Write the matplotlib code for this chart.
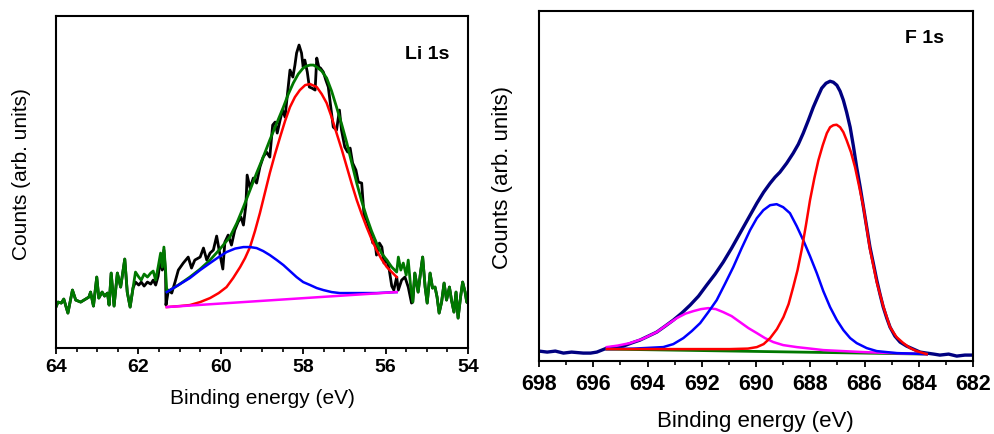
import matplotlib
matplotlib.use('Agg')
import numpy as np
import matplotlib.pyplot as plt
from matplotlib.ticker import MultipleLocator

plt.rcParams['font.family'] = ['Liberation Sans', 'DejaVu Sans']

# ---- Li 1s (left panel) ----
# raw spectrum, black
li_raw_be = [64.00, 63.95, 63.87, 63.81, 63.71, 63.60, 63.52, 63.40, 63.28, 63.20,
             63.16, 63.09, 63.01, 62.96, 62.88, 62.82, 62.75, 62.71, 62.66, 62.59,
             62.51, 62.43, 62.33, 62.27, 62.20, 62.13, 62.07, 61.99, 61.93, 61.86,
             61.78, 61.70, 61.64, 61.58, 61.52, 61.46, 61.42, 61.38, 61.34,
             61.33, 61.27, 61.19, 61.11, 61.03, 60.91, 60.79, 60.71, 60.63, 60.50,
             60.42, 60.34, 60.26, 60.18, 60.10, 60.04, 59.95, 59.90, 59.82, 59.74,
             59.66, 59.58, 59.51, 59.45, 59.39, 59.36, 59.29, 59.21, 59.13, 59.05,
             58.97, 58.89, 58.81, 58.74, 58.68, 58.63, 58.56, 58.50, 58.44, 58.39,
             58.32, 58.25, 58.20, 58.16, 58.10, 58.04, 58.00, 57.96, 57.90, 57.85,
             57.79, 57.71, 57.67, 57.62, 57.58, 57.51, 57.45, 57.39, 57.33, 57.27,
             57.19, 57.12, 57.07, 56.99, 56.92, 56.86, 56.80, 56.72, 56.66, 56.58,
             56.52, 56.46, 56.38, 56.31, 56.26, 56.22, 56.15, 56.09, 56.04, 55.97,
             55.91, 55.85, 55.80, 55.73, 55.69, 55.61, 55.53, 55.45, 55.37,
             55.34, 55.29, 55.21, 55.15, 55.10, 55.04, 54.99, 54.92, 54.86, 54.80,
             54.75, 54.70, 54.64, 54.58, 54.52, 54.45, 54.40, 54.34, 54.29, 54.24,
             54.18, 54.13, 54.07, 54.03, 54.00]
li_raw_cnt = [41, 46, 45, 49, 35, 58, 48, 46, 49, 51,
              56, 42, 71, 50, 56, 52, 55, 43, 75, 42,
              75, 61, 89, 56, 41, 60, 66, 63, 66, 62,
              66, 64, 68, 63, 72, 90, 78, 98, 75,
              43, 58, 55, 66, 78, 85, 91, 80, 88, 91,
              100, 88, 95, 98, 112, 98, 79, 106, 113, 103,
              118, 126, 131, 123, 143, 173, 160, 170, 165, 181,
              191, 196, 191, 223, 226, 215, 228, 238, 231, 251,
              278, 271, 283, 295, 303, 295, 281, 288, 276, 261,
              260, 258, 290, 281, 280, 276, 268, 261, 241, 221,
              218, 238, 218, 201, 196, 200, 185, 178, 166, 165,
              131, 128, 118, 105, 108, 93, 105, 101, 85, 88,
              78, 62, 58, 71, 58, 68, 71, 61, 45,
              46, 75, 56, 76, 91, 61, 45, 75, 60, 61,
              51, 35, 46, 65, 48, 61, 48, 36, 56, 30,
              51, 66, 56, 46, 45]

# green: data outside the fit window + envelope inside it
li_env_be = [64.00, 63.95, 63.87, 63.81, 63.71, 63.60, 63.52, 63.40, 63.28, 63.20,
             63.16, 63.09, 63.01, 62.96, 62.88, 62.82, 62.75, 62.71, 62.66, 62.59,
             62.51, 62.43, 62.33, 62.27, 62.20, 62.13, 62.07, 61.99, 61.93, 61.86,
             61.78, 61.70, 61.64, 61.58, 61.52, 61.46, 61.42, 61.38, 61.34,
             61.31, 61.03, 60.75, 60.50, 60.26, 60.02, 59.78, 59.61, 59.45, 59.29,
             59.13, 58.97, 58.81, 58.64, 58.48, 58.36, 58.24, 58.12, 58.00, 57.92,
             57.83, 57.75, 57.67, 57.55, 57.43, 57.31, 57.19, 57.06, 56.94, 56.82,
             56.70, 56.58, 56.46, 56.34, 56.22, 56.10, 55.97, 55.85, 55.73,
             55.69, 55.63, 55.57, 55.50, 55.45, 55.39,
             55.34, 55.29, 55.21, 55.15, 55.10, 55.04, 54.99, 54.92, 54.86, 54.80,
             54.75, 54.70, 54.64, 54.58, 54.52, 54.45, 54.40, 54.34, 54.29, 54.24,
             54.18, 54.13, 54.07, 54.03, 54.00]
li_env_cnt = [41, 46, 45, 49, 35, 58, 48, 46, 49, 51,
              56, 42, 71, 50, 56, 52, 55, 43, 75, 42,
              75, 61, 89, 56, 41, 60, 76, 71, 68, 74,
              71, 75, 77, 68, 81, 95, 81, 101, 78,
              56, 63, 71, 79, 88, 99, 111, 125, 141, 158,
              175, 191, 208, 225, 241, 254, 265, 274, 280, 282,
              283, 283, 281, 277, 270, 257, 241, 223, 205, 185,
              165, 147, 131, 117, 105, 95, 88, 81, 76,
              91, 78, 85, 73, 88, 61,
              46, 75, 56, 76, 91, 61, 45, 75, 60, 61,
              51, 35, 46, 65, 48, 61, 48, 36, 56, 30,
              51, 66, 56, 46, 45]

li_p1_be = [61.31, 61.00, 60.75, 60.50, 60.26, 60.05, 59.86, 59.70, 59.53, 59.41,
            59.29, 59.17, 59.05, 58.93, 58.81, 58.69, 58.56, 58.44, 58.32, 58.20,
            58.08, 57.95, 57.83, 57.67, 57.55, 57.43, 57.31, 57.19, 57.06, 56.94,
            56.82, 56.70, 56.58, 56.46, 56.34, 56.22, 56.10, 55.97, 55.85, 55.73]
li_p1_cnt = [41, 42, 43, 46, 50, 55, 61, 70, 81, 90,
             101, 117, 135, 155, 175, 193, 211, 227, 241, 251,
             258, 263, 264, 261, 254, 245, 231, 215, 198, 181,
             164, 148, 134, 121, 109, 98, 89, 81, 76, 71]

li_p2_be = [61.31, 61.03, 60.75, 60.50, 60.26, 60.05, 59.86, 59.65, 59.45, 59.29,
            59.13, 58.97, 58.81, 58.64, 58.48, 58.32, 58.16, 58.00, 57.83, 57.67,
            57.51, 57.31, 57.11, 56.70, 56.22, 55.73]
li_p2_cnt = [56, 63, 70, 78, 85, 91, 96, 99.5, 101, 101,
             100, 97, 93, 88, 83, 77, 71, 66, 63, 60,
             58, 56, 55, 55, 55, 56]

li_bg_be = [61.31, 55.73]
li_bg_cnt = [41, 56]

# ---- F 1s (right panel) ----
f_raw_be = [698.00, 697.70, 697.40, 697.10, 696.80, 696.37, 696.10, 695.87, 695.50, 695.20,
            694.89, 694.60, 694.28, 693.97, 693.66, 693.35, 693.05, 692.74, 692.43, 692.12,
            691.82, 691.51, 691.21, 690.90, 690.59, 690.28, 689.97, 689.72, 689.48, 689.30,
            689.12, 688.87, 688.63, 688.44, 688.26, 688.07, 687.89, 687.73, 687.58, 687.42,
            687.27, 687.15, 687.02, 686.90, 686.78, 686.66, 686.53, 686.41, 686.29, 686.16,
            686.04, 685.92, 685.80, 685.67, 685.55, 685.43, 685.31, 685.18, 685.06, 684.88,
            684.69, 684.45, 684.20, 683.95, 683.71, 683.45, 683.22, 682.90, 682.60, 682.30,
            682.05]
f_raw_cnt = [10, 9, 10, 8, 9, 8, 8, 9, 13, 14,
             15, 18, 21, 25, 29, 35, 41, 48, 56, 65,
             76, 87, 99, 113, 128, 143, 158, 169, 178, 184,
             189, 198, 208, 217, 228, 241, 254, 264, 273, 278,
             280, 279, 276, 270, 261, 249, 234, 215, 194, 174,
             154, 134, 114, 97, 81, 67, 54, 43, 34, 25,
             19, 15, 12, 9, 8, 7, 6, 7, 5, 6,
             6]

f_p1_be = [695.50, 690.96, 690.30, 689.97, 689.72, 689.48, 689.23, 688.99, 688.80, 688.63,
           688.47, 688.32, 688.16, 688.01, 687.85, 687.70, 687.54, 687.39, 687.27, 687.15,
           687.03, 686.90, 686.78, 686.66, 686.50, 686.35, 686.20, 686.04, 685.92, 685.80,
           685.67, 685.55, 685.30, 685.06, 684.82, 684.57, 684.32, 684.08, 683.71]
f_p1_cnt = [12, 12, 12.5, 14, 17, 23, 32, 44, 57, 74,
            91, 111, 136, 161, 183, 201, 216, 228, 234, 236,
            236.5, 234, 229, 221, 209, 194, 175, 154, 133, 112,
            95, 79, 54, 34, 24, 18, 13, 10, 7]

f_p2_be = [695.50, 694.50, 693.42, 693.05, 692.68, 692.37, 692.06, 691.76, 691.45, 691.15,
           690.84, 690.53, 690.22, 689.97, 689.73, 689.48, 689.24, 689.00, 688.75, 688.50,
           688.26, 688.01, 687.76, 687.52, 687.27, 687.02, 686.78, 686.53, 686.29, 685.92,
           685.55, 684.81, 683.71]
f_p2_cnt = [12, 12.5, 14, 17, 23, 30, 38, 49, 61, 77,
            94, 113, 131, 143, 151, 156, 157, 154, 148, 135,
            121, 105, 88, 70, 54, 41, 31, 23, 18, 13,
            10, 8, 7]

f_p3_be = [695.50, 695.10, 694.65, 694.20, 693.66, 693.30, 692.92, 692.60, 692.31, 692.03,
           691.76, 691.48, 691.21, 690.90, 690.59, 690.28, 689.97, 689.67, 689.36, 689.00,
           688.50, 688.00, 687.52, 686.80, 686.04, 685.00, 683.71]
f_p3_cnt = [14, 15.5, 18, 22, 29, 36, 43, 47.5, 50, 52,
            53, 52, 49, 45, 39, 33, 28, 23, 19, 16,
            14, 12.5, 11, 10, 9, 8, 7]

f_bg_be = [695.50, 683.71]
f_bg_cnt = [12, 7]

fig = plt.figure(figsize=(9.94, 4.34), dpi=100)

# left panel
ax1 = fig.add_axes([0.0563, 0.198, 0.4145, 0.765])
ax1.plot(li_raw_be, li_raw_cnt, color='black', lw=2.0)
ax1.plot(li_env_be, li_env_cnt, color='#007800', lw=2.0)
ax1.plot(li_p1_be, li_p1_cnt, color='#ff0000', lw=1.8)
ax1.plot(li_p2_be, li_p2_cnt, color='#0000ff', lw=1.8)
ax1.plot(li_bg_be, li_bg_cnt, color='#ff00ff', lw=1.8)
ax1.set_xlim(64, 54)
ax1.set_ylim(0, 332)
ax1.xaxis.set_major_locator(MultipleLocator(2))
ax1.xaxis.set_minor_locator(MultipleLocator(0.5))
ax1.tick_params(axis='x', which='major', length=4, width=1.3, labelsize=14, pad=4)
ax1.tick_params(axis='x', which='minor', length=3, width=1.2)
ax1.set_yticks([])
ax1.text(0.847, 0.884, 'Li 1s', transform=ax1.transAxes, fontsize=14,
         fontweight='bold', ha='left', va='center')
ax1.text(0.50, -0.151, 'Binding energy (eV)', transform=ax1.transAxes,
         fontsize=15, ha='center', va='center')
ax1.text(-0.0825, 0.524, 'Counts (arb. units)', transform=ax1.transAxes,
         fontsize=15, ha='center', va='center', rotation=90)

# right panel
ax2 = fig.add_axes([0.5423, 0.168, 0.4366, 0.806])
ax2.plot(f_raw_be, f_raw_cnt, color='#000080', lw=2.4)
ax2.plot(f_bg_be, f_bg_cnt, color='#007800', lw=2.0)
ax2.plot(f_p3_be, f_p3_cnt, color='#ff00ff', lw=1.8)
ax2.plot(f_p2_be, f_p2_cnt, color='#0000ff', lw=1.8)
ax2.plot(f_p1_be, f_p1_cnt, color='#ff0000', lw=1.8)
ax2.set_xlim(698, 682)
ax2.set_ylim(0, 350)
ax2.xaxis.set_major_locator(MultipleLocator(2))
ax2.xaxis.set_minor_locator(MultipleLocator(1))
ax2.tick_params(axis='x', which='major', length=4, width=1.3, labelsize=15.5, pad=5)
ax2.tick_params(axis='x', which='minor', length=3, width=1.2)
ax2.set_yticks([])
ax2.text(0.843, 0.923, 'F 1s', transform=ax2.transAxes, fontsize=14,
         fontweight='bold', ha='left', va='center')
ax2.text(0.499, -0.174, 'Binding energy (eV)', transform=ax2.transAxes,
         fontsize=16, ha='center', va='center')
ax2.text(-0.085, 0.524, 'Counts (arb. units)', transform=ax2.transAxes,
         fontsize=16, ha='center', va='center', rotation=90)

for ax in (ax1, ax2):
    for s in ax.spines.values():
        s.set_linewidth(1.5)
    for lbl in ax.get_xticklabels():
        lbl.set_fontweight('bold')

fig.savefig('out.png', dpi=100)
